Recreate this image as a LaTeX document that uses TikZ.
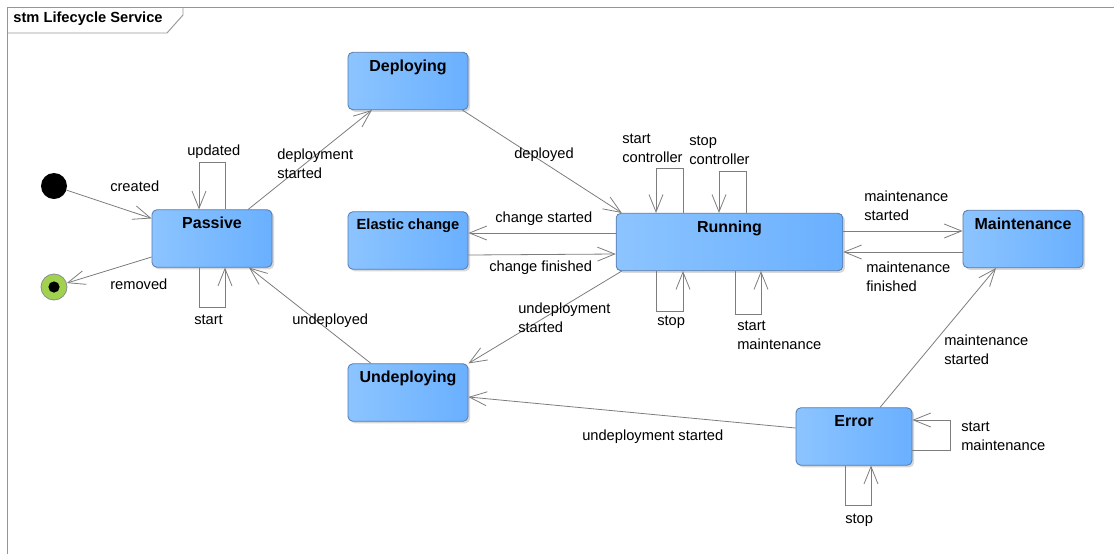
\documentclass[tikz,border=0pt]{standalone}
\usepackage{fontspec}
\setmainfont{Liberation Sans}
\usetikzlibrary{arrows.meta,calc,shadows}

\definecolor{stateL}{RGB}{140,196,255}
\definecolor{stateM}{RGB}{164,212,255}
\definecolor{stateR}{RGB}{106,176,255}
\definecolor{stateedge}{RGB}{84,120,168}
\definecolor{edgegray}{RGB}{125,125,125}
\definecolor{framegray}{RGB}{150,150,150}
\definecolor{finalgreen}{RGB}{160,210,80}

\tikzset{
	state/.style={rectangle, rounded corners=3.5pt, draw=stateedge, line width=0.6pt,
		left color=stateL, middle color=stateM, right color=stateR,
		minimum width=90pt, minimum height=43pt,
		drop shadow={shadow xshift=1.6pt, shadow yshift=-1.6pt, fill=black!30, opacity=0.5}},
	statename/.style={anchor=north, yshift=-2.2pt, font=\fontsize{12}{14}\selectfont\bfseries},
	edge/.style={draw=edgegray, line width=0.6pt, -{Straight Barb[length=13pt,width=10.5pt]}},
	lbl/.style={anchor=west, align=left, inner sep=0pt, font=\fontsize{11}{14.25}\selectfont},
	frame/.style={draw=framegray, line width=0.7pt},
}

\begin{document}
\begin{tikzpicture}[x=0.75pt, y=-0.75pt]
	\useasboundingbox (0,0) rectangle (1114,554);
	\draw[frame] (7,554) -- (7,7) -- (1114,7);
	\draw[frame] (7,33) -- (167,33) -- (183,15) -- (183,7);
	\node[font=\fontsize{11}{13}\selectfont\bfseries] (title) at (88,19) {stm Lifecycle Service};

	% states
	\node[circle, fill=black, minimum size=19.5pt, inner sep=0pt] (init) at (54,186) {};
	\node[circle, draw=black!45, fill=finalgreen, line width=0.6pt, minimum size=19.5pt, inner sep=0pt] (final) at (54,287) {};
	\fill (final.center) circle (4.2pt);
	\node[state, label={[statename]north:Passive}] (passive) at (212,238.5) {};
	\node[state, label={[statename]north:Deploying}] (deploying) at (408,81) {};
	\node[state, label={[statename, font=\fontsize{11}{13}\selectfont\bfseries]north:Elastic change}] (elastic) at (408,240.5) {};
	\node[state, label={[statename]north:Undeploying}] (undeploying) at (408,392.5) {};
	\node[state, minimum width=170pt, label={[statename]north:Running}] (running) at (729.5,242) {};
	\node[state, label={[statename]north:Maintenance}] (maintenance) at (1023,239) {};
	\node[state, minimum width=87pt, label={[statename]north:Error}] (error) at (854,436.5) {};

	% transitions
	\draw[edge] (init) -- (passive);
	\draw[edge] (passive) -- (final);
	\draw[edge] ($(passive.north)+(13,0)$) -- ++(0,-47) -| ($(passive.north)+(-13,0)$);
	\draw[edge] ($(passive.south)+(-13,0)$) -- ++(0,40) -| ($(passive.south)+(13,0)$);
	\draw[edge] (passive) -- (deploying);
	\draw[edge] ($(deploying.south east)+(-6,0)$) -- ($(running.north west)+(6,0)$);
	\draw[edge] (undeploying) -- (passive);
	\draw[edge] ($(running.west)+(0,-9)$) -- ($(elastic.east)+(0,-7.5)$);
	\draw[edge] ($(elastic.east)+(0,14.5)$) -- ($(running.west)+(0,12)$);
	\draw[edge] ($(running.south west)+(6,0)$) -- (undeploying.north east);
	\draw[edge] ($(error.west)+(0,-8.5)$) -- ($(undeploying.east)+(0,4.5)$);
	\draw[edge] ($(running.north)+(-46.5,0)$) -- ++(0,-45) -| ($(running.north)+(-73.5,0)$);
	\draw[edge] ($(running.north)+(16.5,0)$) -- ++(0,-42) -| ($(running.north)+(-10.5,0)$);
	\draw[edge] ($(running.south)+(-73.5,0)$) -- ++(0,40) -| ($(running.south)+(-46.5,0)$);
	\draw[edge] ($(running.south)+(5.5,0)$) -- ++(0,43) -| ($(running.south)+(31.5,0)$);
	\draw[edge] ($(running.east)+(0,-11)$) -- ($(maintenance.west)+(0,-8)$);
	\draw[edge] ($(maintenance.west)+(0,13)$) -- ($(running.east)+(0,10)$);
	\draw[edge] ($(error.north)+(26,0)$) -- ($(maintenance.south)+(-27,0)$);
	\draw[edge] ($(error.east)+(0,13.5)$) -- ++(38,0) |- ($(error.east)+(0,-16.5)$);
	\draw[edge] ($(error.south)+(-9,0)$) -- ++(0,40) -| ($(error.south)+(17,0)$);

	% labels
	\node[lbl] (lcreated) at (110,186) {created};
	\node[lbl] (lremoved) at (110,284) {removed};
	\node[lbl] (lupdated) at (187,152) {updated};
	\node[lbl] (lstartp) at (194,320) {start};
	\node[lbl] (ldeploystart) at (277,164) {deployment\\started};
	\node[lbl] (ldeployed) at (514,155) {deployed};
	\node[lbl] (lundeployed) at (292,321) {undeployed};
	\node[lbl] (lchangestart) at (495,219) {change started};
	\node[lbl] (lchangefin) at (489,268) {change finished};
	\node[lbl] (lundeployrun) at (518,318) {undeployment\\started};
	\node[lbl] (lundeployerr) at (582,437) {undeployment started};
	\node[lbl] (lstartctrl) at (622,148) {start\\controller};
	\node[lbl] (lstopctrl) at (689,150) {stop\\controller};
	\node[lbl] (lstoprun) at (657,322) {stop};
	\node[lbl] (lmaintrun) at (737,335) {start\\maintenance};
	\node[lbl] (lmaintstart) at (864,206) {maintenance\\started};
	\node[lbl] (lmaintfin) at (866,277) {maintenance\\finished};
	\node[lbl] (lmainterr) at (944,350) {maintenance\\started};
	\node[lbl] (lstartmaint) at (961,436) {start\\maintenance};
	\node[lbl] (lstoperr) at (845,520) {stop};
\end{tikzpicture}
\end{document}
